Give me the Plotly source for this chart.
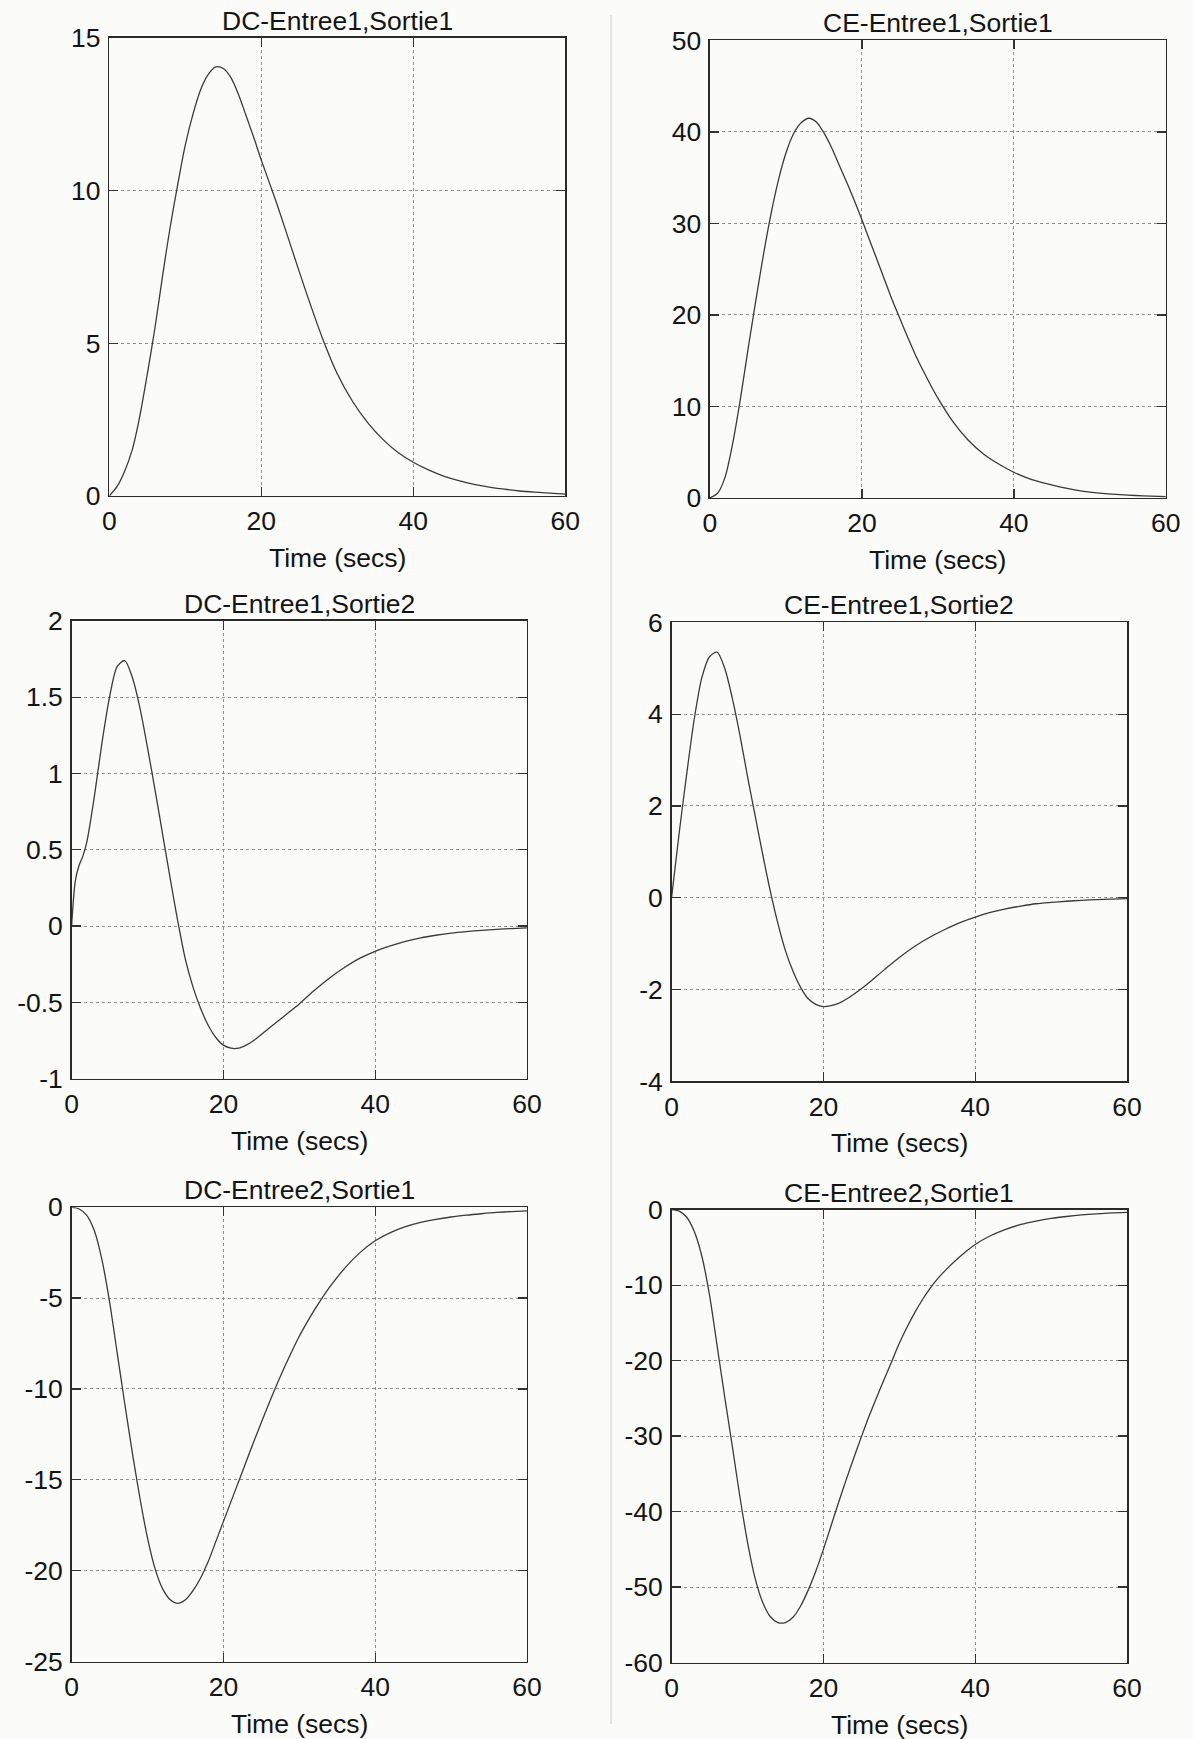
import plotly.graph_objects as go

# ---------------- data ----------------
titles = ["DC-Entree1,Sortie1", "CE-Entree1,Sortie1",
          "DC-Entree1,Sortie2", "CE-Entree1,Sortie2",
          "DC-Entree2,Sortie1", "CE-Entree2,Sortie1"]
x_label = "Time (secs)"
x_ticks = [0, 20, 40, 60]
y_ticks = [
    [0, 5, 10, 15],
    [0, 10, 20, 30, 40, 50],
    [-1, -0.5, 0, 0.5, 1, 1.5, 2],
    [-4, -2, 0, 2, 4, 6],
    [-25, -20, -15, -10, -5, 0],
    [-60, -50, -40, -30, -20, -10, 0],
]
y_ranges = [[0, 15], [0, 50], [-1, 2], [-4, 6], [-25, 0], [-60, 0]]

t_dc11 = [0, 1, 2, 3, 4, 5, 6, 7, 8, 9, 10, 11, 12, 13, 14, 15, 16, 17, 18, 19, 20,
          22, 24, 26, 28, 30, 32, 34, 36, 38, 40, 42, 44, 46, 48, 50, 52, 54, 56, 58, 60]
y_dc11 = [0, 0.3, 0.8, 1.5, 2.6, 4.0, 5.5, 7.2, 8.8, 10.2, 11.5, 12.5, 13.3, 13.8, 14.05,
          14.0, 13.7, 13.15, 12.45, 11.75, 11.0,
          9.6, 8.1, 6.6, 5.2, 4.0, 3.1, 2.4, 1.85, 1.42, 1.1, 0.85, 0.65, 0.5, 0.38, 0.29,
          0.22, 0.16, 0.12, 0.09, 0.06]

t_ce11 = [0, 1, 2, 3, 4, 5, 6, 7, 8, 9, 10, 11, 12, 13, 14, 15, 16, 17, 18, 19, 20,
          21, 22, 23, 24, 25, 26, 27, 28, 29, 30, 32, 34, 36, 38, 40, 42, 44, 46, 48, 50,
          52, 54, 56, 58, 60]
y_ce11 = [0, 0.5, 2.3, 6.0, 10.8, 16.2, 21.4, 26.4, 30.9, 34.7, 37.7, 39.8, 41.0, 41.5,
          41.1, 39.9, 38.3, 36.4, 34.5, 32.5, 30.4, 28.2, 26.0, 23.8, 21.6, 19.6, 17.6,
          15.7, 14.0, 12.4, 10.9, 8.3, 6.3, 4.8, 3.7, 2.8, 2.1, 1.6, 1.2, 0.88, 0.64,
          0.47, 0.35, 0.26, 0.19, 0.14]

t_dc12 = [0, 0.5, 1, 1.5, 2, 3, 4, 5, 6, 7, 8, 9, 10, 11, 12, 13, 14, 15, 16, 17, 18,
          19, 20, 21, 22, 23, 24, 26, 28, 30, 32, 34, 36, 38, 40, 42, 44, 46, 48, 50,
          52, 54, 56, 58, 60]
y_dc12 = [0, 0.3, 0.4, 0.46, 0.55, 0.85, 1.2, 1.5, 1.7, 1.74, 1.63, 1.43, 1.17, 0.89,
          0.6, 0.31, 0.03, -0.22, -0.40, -0.54, -0.65, -0.73, -0.78, -0.80, -0.80,
          -0.78, -0.75, -0.67, -0.59, -0.51, -0.42, -0.34, -0.27, -0.21, -0.165, -0.13,
          -0.10, -0.077, -0.06, -0.046, -0.036, -0.028, -0.021, -0.016, -0.012]

t_ce12 = [0, 1, 2, 3, 4, 5, 6, 7, 8, 9, 10, 11, 12, 13, 14, 15, 16, 17, 18, 19, 20,
          21, 22, 23, 24, 25, 26, 28, 30, 32, 34, 36, 38, 40, 42, 44, 46, 48, 50, 52,
          54, 56, 58, 60]
y_ce12 = [0, 1.4, 2.7, 3.9, 4.8, 5.25, 5.35, 5.0, 4.35, 3.55, 2.65, 1.8, 0.95, 0.15,
          -0.55, -1.15, -1.6, -1.95, -2.2, -2.32, -2.37, -2.35, -2.3, -2.21, -2.1,
          -1.98, -1.85, -1.57, -1.3, -1.06, -0.86, -0.69, -0.54, -0.42, -0.32, -0.24,
          -0.18, -0.13, -0.1, -0.075, -0.055, -0.04, -0.03, -0.02]

t_dc21 = [0, 1, 2, 3, 4, 5, 6, 7, 8, 9, 10, 11, 12, 13, 14, 15, 16, 17, 18, 19, 20,
          21, 22, 23, 24, 25, 26, 27, 28, 29, 30, 31, 32, 33, 34, 36, 38, 40, 42, 44,
          46, 48, 50, 52, 54, 56, 58, 60]
y_dc21 = [0, -0.1, -0.45, -1.3, -2.9, -5.2, -8.0, -10.8, -13.5, -16.0, -18.2, -19.9,
          -21.0, -21.6, -21.8, -21.6, -21.1, -20.4, -19.5, -18.4, -17.3, -16.2, -15.1,
          -14.0, -12.9, -11.85, -10.8, -9.8, -8.85, -7.95, -7.1, -6.35, -5.65, -5.0,
          -4.4, -3.35, -2.5, -1.85, -1.4, -1.07, -0.84, -0.67, -0.54, -0.44, -0.36,
          -0.29, -0.24, -0.2]

t_ce21 = [0, 1, 2, 3, 4, 5, 6, 7, 8, 9, 10, 11, 12, 13, 14, 15, 16, 17, 18, 19, 20,
          21, 22, 23, 24, 25, 26, 27, 28, 29, 30, 31, 32, 33, 34, 35, 36, 38, 40, 42,
          44, 46, 48, 50, 52, 54, 56, 58, 60]
y_ce21 = [0, -0.2, -1.0, -2.9, -6.2, -11.3, -18.0, -24.8, -31.3, -38.0, -44.0, -48.8,
          -52.0, -53.9, -54.7, -54.7, -54.0, -52.5, -50.4, -47.9, -45.0, -41.9, -38.8,
          -35.8, -32.9, -30.1, -27.4, -24.9, -22.5, -20.1, -17.7, -15.6, -13.7, -12.0,
          -10.5, -9.2, -8.1, -6.2, -4.6, -3.45, -2.6, -1.95, -1.5, -1.15, -0.9, -0.7,
          -0.55, -0.43, -0.35]

series_t = [t_dc11, t_ce11, t_dc12, t_ce12, t_dc21, t_ce21]
series_y = [y_dc11, y_ce11, y_dc12, y_ce12, y_dc21, y_ce21]


def fmt(v):
    return "%g" % v  # plain ASCII hyphen for negatives, as in the original


# ---------------- layout geometry ----------------
W, H = 1194, 1739
# target plot-area boxes as they appear in the picture: x0, x1, y0(top), y1(bottom)
target_boxes = [
    (108.5, 565.0, 34.0, 492.0),
    (710.0, 1166.5, 36.5, 494.0),
    (70.7, 526.7, 617.0, 1075.0),
    (671.5, 1127.7, 618.5, 1077.7),
    (70.7, 526.7, 1203.5, 1658.0),
    (671.5, 1127.7, 1206.0, 1659.0),
]
# observed capture transform (picture = OFF + SC * page)
SC = 0.983
OFFX, OFFY = 6.0, 11.0


def px(xp):
    return (xp - OFFX) / SC


def py(yp):
    return (yp - OFFY) / SC


FONT = "Liberation Sans, Arial, Helvetica, sans-serif"
INK = "#141414"
BG = "#fbfbfa"
FS = 26.5

fig = go.Figure()
layout = dict(
    width=W, height=H,
    margin=dict(l=0, r=0, t=0, b=0),
    paper_bgcolor=BG,
    plot_bgcolor=BG,
    showlegend=False,
    font=dict(family=FONT, color=INK, size=FS),
    annotations=[],
    shapes=[],
)

for i in range(6):
    n = "" if i == 0 else str(i + 1)
    x0, x1, y0, y1 = target_boxes[i]
    xd = [px(x0) / W, px(x1) / W]
    yd = [1 - py(y1) / H, 1 - py(y0) / H]
    fig.add_trace(go.Scatter(
        x=series_t[i], y=series_y[i], mode="lines",
        line=dict(color="#3a3a3a", width=1.3, shape="spline", smoothing=0.8),
        xaxis="x" + n, yaxis="y" + n, hoverinfo="skip"))
    common = dict(
        showline=True, linecolor="#2a2a2a", linewidth=1.5, mirror="ticks",
        ticks="inside", ticklen=9, tickwidth=1.3, tickcolor="#333333",
        showgrid=True, gridcolor="#8f8f8f", gridwidth=1, griddash="dot",
        zeroline=False, tickfont=dict(family=FONT, size=FS, color=INK),
        fixedrange=True,
    )
    layout["xaxis" + n] = dict(
        common, domain=xd, range=[0, 60], tickmode="array",
        tickvals=x_ticks, ticktext=[fmt(v) for v in x_ticks],
        anchor="y" + n, ticklabelstandoff=1)
    layout["yaxis" + n] = dict(
        common, domain=yd, range=y_ranges[i], tickmode="array",
        tickvals=y_ticks[i], ticktext=[fmt(v) for v in y_ticks[i]],
        anchor="x" + n, ticklabelstandoff=2)
    cx = (xd[0] + xd[1]) / 2
    layout["annotations"].append(dict(
        text=titles[i], xref="paper", yref="paper", x=cx, y=yd[1],
        xanchor="center", yanchor="bottom", showarrow=False,
        font=dict(family=FONT, size=FS, color=INK)))
    layout["annotations"].append(dict(
        text=x_label, xref="paper", yref="paper", x=cx, y=1 - py(y1 + 62) / H,
        xanchor="center", yanchor="middle", showarrow=False,
        font=dict(family=FONT, size=FS, color=INK)))

# faint scan fold line between the columns
layout["shapes"].append(dict(
    type="line", xref="paper", yref="paper", x0=px(611) / W, x1=px(611) / W,
    y0=0, y1=1, line=dict(color="#e4e4e4", width=2)))

fig.update_layout(**layout)
fig.write_html(
    "out.html",
    config={"displayModeBar": False, "staticPlot": True},
    post_script=("document.documentElement.style.margin='0';"
                 "document.body.style.margin='0';"
                 "document.body.style.background='%s';"
                 "document.body.style.overflow='hidden';" % BG))
